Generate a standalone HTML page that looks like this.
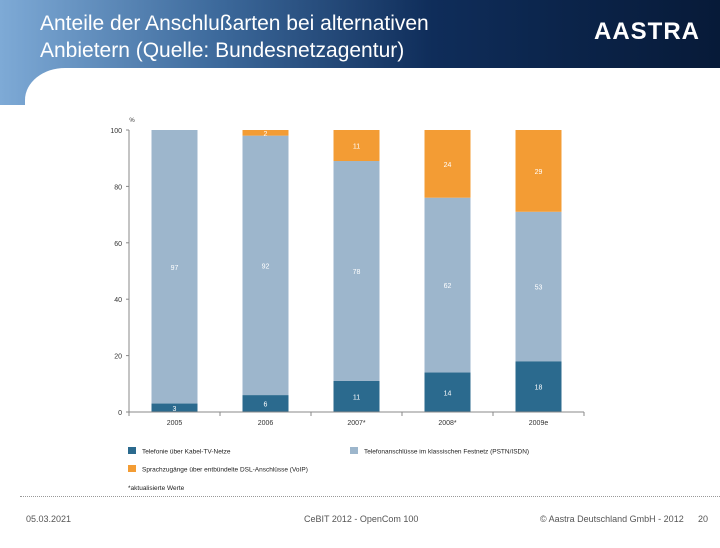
<!DOCTYPE html>
<html><head><meta charset="utf-8"><style>
body{margin:0;width:720px;height:540px;position:relative;overflow:hidden;background:#fff;font-family:"Liberation Sans",sans-serif}
#hdr{position:absolute;left:0;top:0;width:720px;height:105px;background:linear-gradient(90deg,#7eaad6 0%,#3d6a9c 30%,#0f2d5a 60%,#071a38 100%)}
#white{position:absolute;left:25px;top:68px;width:720px;height:480px;background:#fff;border-top-left-radius:40px 32px}
#title{position:absolute;left:40px;top:10px;color:#fff;font-size:21px;line-height:27px}
#logo{position:absolute;left:594px;top:18px;color:#fff;font-size:24px;font-weight:bold;letter-spacing:1px}
.ft{position:absolute;top:514px;font-size:9px;color:#555}
</style></head><body>
<div id="hdr"></div>
<div id="white"></div>
<div id="title">Anteile der Anschlußarten bei alternativen<br>Anbietern (Quelle: Bundesnetzagentur)</div>
<div id="logo">AASTRA</div>
<svg id="chart" width="720" height="540" style="position:absolute;left:0;top:0"></svg>
<div style="position:absolute;left:20px;top:496px;width:700px;border-top:1px dotted #999"></div>
<div class="ft" style="left:26px">05.03.2021</div>
<div class="ft" style="left:304px">CeBIT 2012 - OpenCom 100</div>
<div class="ft" style="left:540px">© Aastra Deutschland GmbH - 2012</div>
<div class="ft" style="left:698px">20</div>
<script>
const categories=["2005","2006","2007*","2008*","2009e"];
const cable=[3,6,11,14,18];
const pstn=[97,92,78,62,53];
const voip=[0,2,11,24,29];
const yTicks=[0,20,40,60,80,100];
const svg=document.getElementById('chart');
const NS='http://www.w3.org/2000/svg';
const x0=129,x1=584,y0=412,y100=130;
const bw=(x1-x0)/categories.length, barW=46;
const Y=v=>y0-(y0-y100)*v/100;
const cx=i=>x0+bw*(i+0.5);
function mk(t,a){const e=document.createElementNS(NS,t);for(const k in a)e.setAttribute(k,a[k]);svg.appendChild(e);return e;}
function txt(x,y,s,size,fill,anchor){const e=mk('text',{x:x,y:y,'font-size':size,fill:fill,'text-anchor':anchor||'middle','font-family':'Liberation Sans, sans-serif'});e.textContent=s;return e;}
const series=[[cable,'#2b6a8e','cable'],[pstn,'#9db6cc','pstn'],[voip,'#f39c34','voip']];
categories.forEach((c,i)=>{
  let base=0;
  series.forEach(([arr,col,nm])=>{
    const v=arr[i];
    if(v>0){
      const r=mk('rect',{x:cx(i)-barW/2,y:Y(base+v),width:barW,height:Y(base)-Y(base+v),fill:col});
      
      
      const t=txt(cx(i),Y(base+v/2)+3,String(v),7,'#fff');
      
      
    }
    base+=v;
  });
  const l=txt(cx(i),425,c,7,'#333');
  
  
});
mk('line',{x1:x0,y1:y100,x2:x0,y2:y0,stroke:'#888','stroke-width':1});
mk('line',{x1:x0,y1:y0,x2:x1,y2:y0,stroke:'#888','stroke-width':1});
for(let i=0;i<=categories.length;i++)mk('line',{x1:x0+bw*i,y1:y0,x2:x0+bw*i,y2:y0+4,stroke:'#888'});
yTicks.forEach(v=>{
  mk('line',{x1:x0-3,y1:Y(v),x2:x0,y2:Y(v),stroke:'#888'});
  const t=txt(x0-7,Y(v)+3,String(v),7,'#333','end');
  
  
});
txt(132,122,'%',6,'#333');
const leg=[['#2b6a8e','Telefonie über Kabel-TV-Netze',128,451],['#9db6cc','Telefonanschlüsse im klassischen Festnetz (PSTN/ISDN)',350,451],['#f39c34','Sprachzugänge über entbündelte DSL-Anschlüsse (VoIP)',128,469]];
leg.forEach(([col,s,x,y])=>{
  const r=mk('rect',{x:x,y:y-4,width:8,height:7,fill:col});
  
  
  const t=txt(x+14,y+2.5,s,6.5,'#222','start');
  
  
});
const n=txt(128,490,'*aktualisierte Werte',6.5,'#222','start');


</script>
</body></html>
